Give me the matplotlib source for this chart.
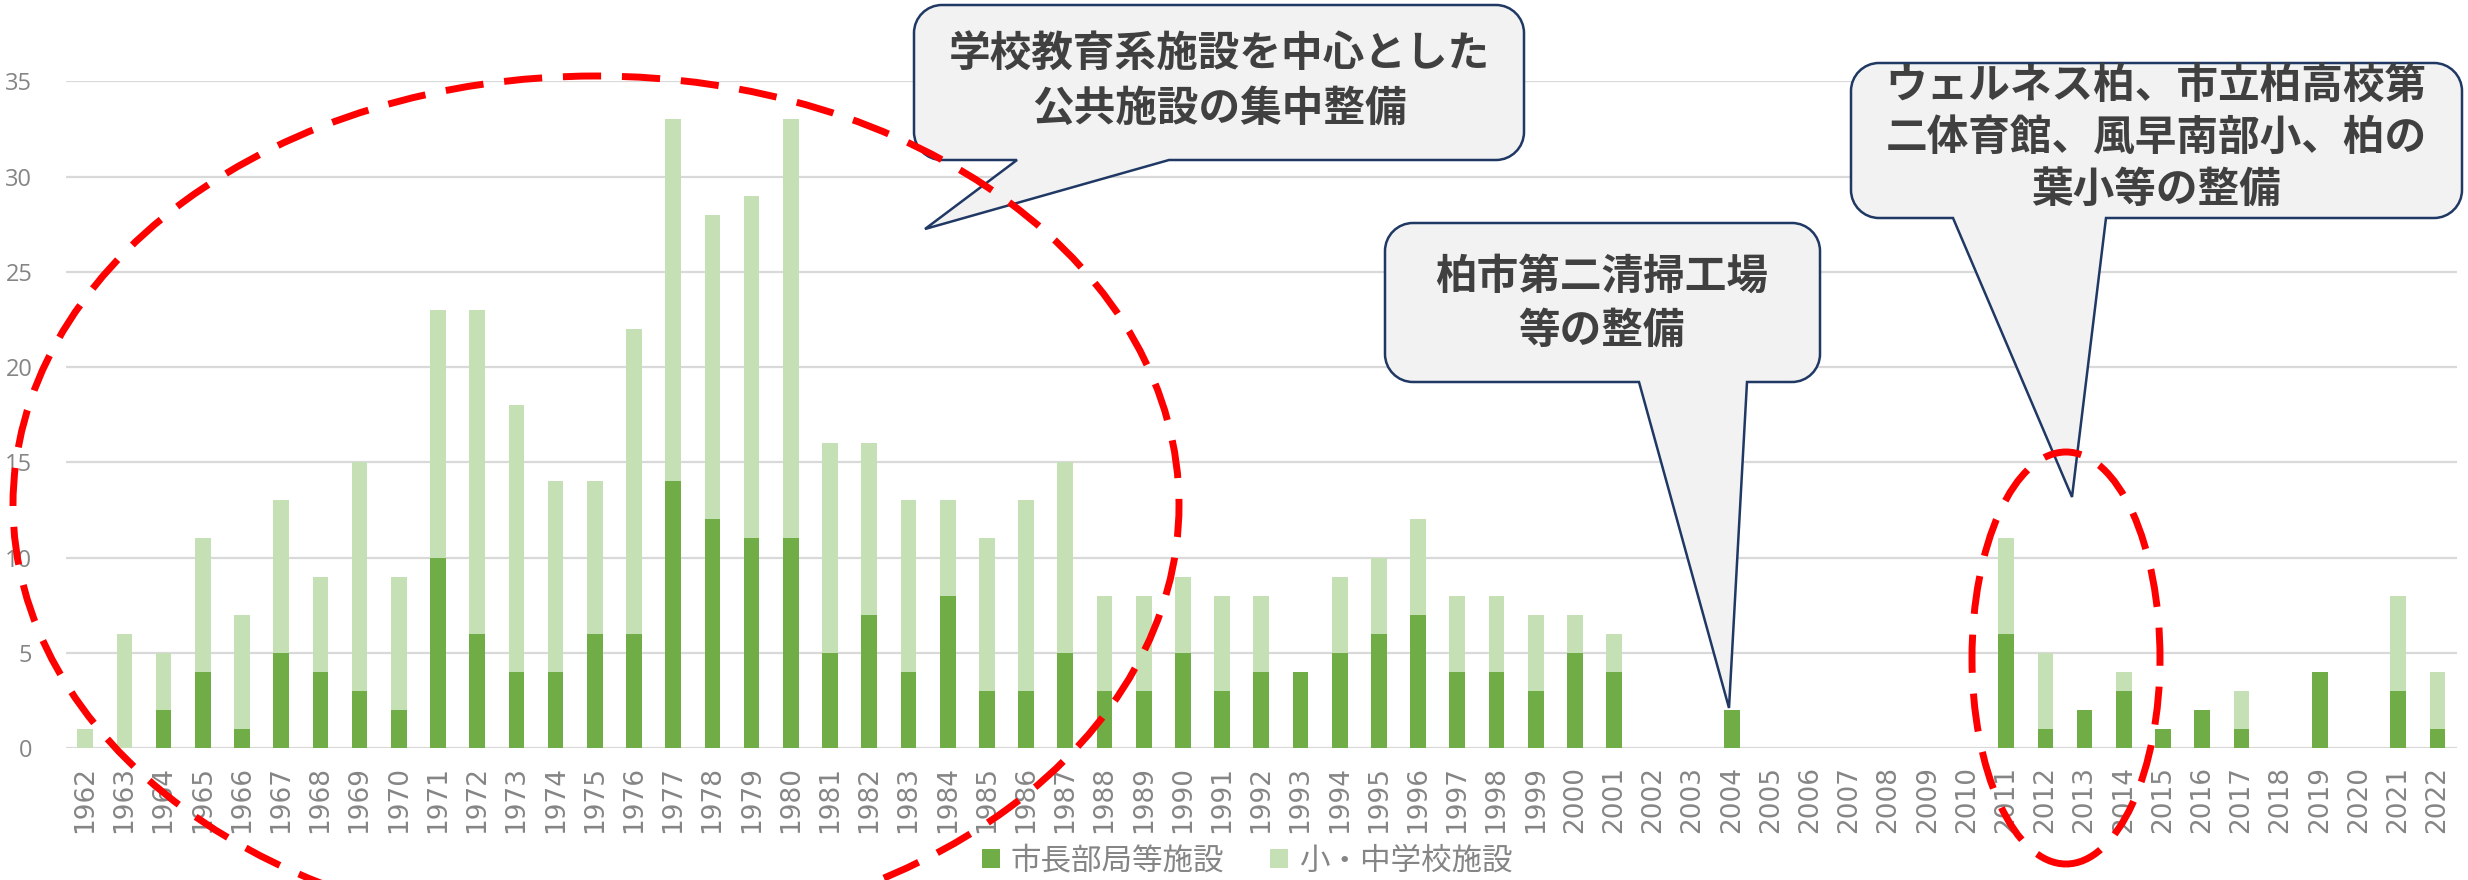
import numpy as np
import matplotlib.pyplot as plt
import matplotlib as mpl
from matplotlib.path import Path
from matplotlib.patches import PathPatch, Ellipse

mpl.rcParams['font.family'] = ['Noto Sans CJK JP', 'DejaVu Sans']

DARK = '#70ad47'; LITE = '#c5e0b4'; GREY = '#858585'; TXT = '#404040'
EDGE = '#1f3864'; FILL = '#f2f2f2'; RED = '#ff0000'

years = list(range(1962, 2023))
city = [0, 0, 2, 4, 1, 5, 4, 3, 2, 10,
        6, 4, 4, 6, 6, 14, 12, 11, 11, 5,
        7, 4, 8, 3, 3, 5, 3, 3, 5, 3,
        4, 4, 5, 6, 7, 4, 4, 3, 5, 4,
        0, 0, 2, 0, 0, 0, 0, 0, 0,
        6, 1, 2, 3, 1, 2, 1, 0, 4, 0, 3, 1]
school = [1, 6, 3, 7, 6, 8, 5, 12, 7, 13,
          17, 14, 10, 8, 16, 19, 16, 18, 22, 11,
          9, 9, 5, 8, 10, 10, 5, 5, 4, 5,
          4, 0, 4, 4, 5, 4, 4, 4, 2, 2,
          0, 0, 0, 0, 0, 0, 0, 0, 0,
          5, 4, 0, 1, 0, 0, 2, 0, 0, 0, 5, 3]
labels = ['市長部局等施設', '小・中学校施設']
yticks = [0, 5, 10, 15, 20, 25, 30, 35]

notes = ['学校教育系施設を中心とした\n公共施設の集中整備',
         '柏市第二清掃工場\n等の整備',
         'ウェルネス柏、市立柏高校第\n二体育館、風早南部小、柏の\n葉小等の整備']

W, H = 2468, 880
fig = plt.figure(figsize=(W/100, H/100), dpi=100)
ax = fig.add_axes([65.6/W, 132/H, (2457-65.6)/W, (748-81.4)/H])

x = np.arange(len(years))
ax.bar(x, city, width=0.4, color=DARK, label=labels[0], zorder=3)
ax.bar(x, school, width=0.4, bottom=city, color=LITE, label=labels[1], zorder=3)
ax.set_xlim(-0.5, len(years)-0.5)
ax.set_ylim(0, 35)
ax.set_yticks(yticks)
ax.set_xticks(x)
ax.set_xticklabels([str(y) for y in years], rotation=90,
                   family=['Liberation Sans Narrow', 'DejaVu Sans'], fontsize=19, color=GREY)
ax.set_yticklabels([str(v) for v in yticks], family=['Open Sans', 'DejaVu Sans'],
                   fontsize=17, color=GREY)
ax.tick_params(axis='both', length=0)
ax.tick_params(axis='x', pad=13)
ax.tick_params(axis='y', pad=24)
for s in ax.spines.values():
    s.set_visible(False)
ax.grid(axis='y', color='#d9d9d9', lw=1.6, zorder=0)
ax.set_axisbelow(True)

leg = ax.legend(loc='center', bbox_to_anchor=(1247/W, 1-861/H), bbox_transform=fig.transFigure,
                ncol=2, frameon=False, fontsize=22, handlelength=0.6, handleheight=0.6,
                handletextpad=0.35, columnspacing=1.5)
for t in leg.get_texts():
    t.set_color(GREY)


def fxy(px, py):
    return (px/W, 1-py/H)


def callout(x0, y0, x1, y1, ba, bb, tip, r=28):
    k = 0.5523*r
    pts = [(x0+r, y0), (x1-r, y0),
           (x1-r+k, y0), (x1, y0+r-k), (x1, y0+r),
           (x1, y1-r),
           (x1, y1-r+k), (x1-r+k, y1), (x1-r, y1),
           (bb, y1), tip, (ba, y1), (x0+r, y1),
           (x0+r-k, y1), (x0, y1-r+k), (x0, y1-r),
           (x0, y0+r),
           (x0, y0+r-k), (x0+r-k, y0), (x0+r, y0),
           (x0+r, y0)]
    C, L = Path.CURVE4, Path.LINETO
    codes = [Path.MOVETO, L, C, C, C, L, C, C, C, L, L, L, L, C, C, C, L, C, C, C, Path.CLOSEPOLY]
    p = PathPatch(Path([fxy(*q) for q in pts], codes), transform=fig.transFigure,
                  fc=FILL, ec=EDGE, lw=1.8, zorder=5)
    fig.add_artist(p)


callout(914, 5, 1524, 160, 1017, 1169, (925, 229))
callout(1385, 223, 1820, 382, 1639, 1747, (1729, 708))
callout(1851, 63, 2462, 218, 1953, 2106, (2072, 497))

for s, (px, py), ls in zip(notes, [(1219, 82), (1602, 304), (2156, 138)], [1.38, 1.38, 1.3]):
    fig.text(*fxy(px, py), s, ha='center', va='center', fontsize=30, fontweight='bold',
             color=TXT, linespacing=ls, zorder=6)

for cx, cy, a, b in [(596, 505, 583, 429), (2066, 658, 94, 206)]:
    e = Ellipse(fxy(cx, cy), 2*a/W, 2*b/H, transform=fig.transFigure, fill=False,
                ec=RED, lw=5, ls=(0, (5.5, 3)), zorder=7)
    fig.add_artist(e)

fig.savefig('out.png', dpi=100)
